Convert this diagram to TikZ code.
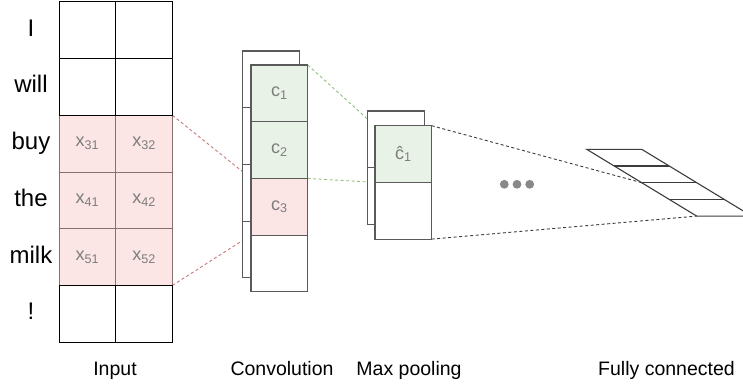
\documentclass[tikz,border=0pt]{standalone}
\usepackage{fontspec}
\setmainfont{Liberation Sans}
\usetikzlibrary{positioning,backgrounds}

\definecolor{cellpink}{RGB}{251,229,229}
\definecolor{cellgreen}{RGB}{233,242,231}
\definecolor{pinkline}{RGB}{135,112,112}
\definecolor{cellline}{RGB}{90,90,90}
\definecolor{cellgray}{RGB}{125,125,125}
\definecolor{redline}{RGB}{200,120,120}
\definecolor{greenline}{RGB}{145,192,125}
\definecolor{darkline}{RGB}{60,60,60}
\definecolor{dotgray}{RGB}{136,136,136}

\begin{document}
\begin{tikzpicture}[x=1pt, y=-1pt, node distance=0pt,
  every node/.style={inner sep=0pt, outer sep=0pt},
  cell/.style={draw, minimum width=56.7pt, minimum height=56.7pt, fill=white, text=cellgray, font=\fontsize{18}{21}\selectfont},
  incell/.style={cell, line width=0.9pt},
  pinkin/.style={incell, fill=cellpink, draw=pinkline},
  boxcell/.style={cell, draw=cellline, line width=1.2pt},
  word/.style={font=\fontsize{24}{28}\selectfont, text height=17pt, text depth=5pt},
  caption/.style={anchor=base, font=\fontsize{19.5}{23}\selectfont},
  link/.style={dash pattern=on 3pt off 2.5pt, line width=0.9pt}]

\useasboundingbox (0,0) rectangle (743,385);

% input
\node[pinkin] (a3) at (87.35,143.65) {x\textsubscript{31}};
\node[pinkin, right=of a3] (b3) {x\textsubscript{32}};
\node[pinkin, below=of a3] (a4) {x\textsubscript{41}};
\node[pinkin, right=of a4] (b4) {x\textsubscript{42}};
\node[pinkin, below=of a4] (a5) {x\textsubscript{51}};
\node[pinkin, right=of a5] (b5) {x\textsubscript{52}};
\node[incell, above=of a3] (a2) {};
\node[incell, right=of a2] (b2) {};
\node[incell, above=of a2] (a1) {};
\node[incell, right=of a1] (b1) {};
\node[incell, below=of a5] (a6) {};
\node[incell, right=of a6] (b6) {};

\node[word] (w1) at ([xshift=-28pt]a1.west) {I};
\node[word] (w2) at ([xshift=-28pt]a2.west) {will};
\node[word] (w3) at ([xshift=-28pt]a3.west) {buy};
\node[word] (w4) at ([xshift=-28pt]a4.west) {the};
\node[word] (w5) at ([xshift=-28pt]a5.west) {milk};
\node[word] (w6) at ([xshift=-28pt]a6.west) {!};

% convolution
\node[boxcell] (p1) at (271.05,79.35) {};
\node[boxcell, below=of p1] (p2) {};
\node[boxcell, below=of p2] (p3) {};
\node[boxcell, below=of p3] (p4) {};
\node[boxcell, fill=cellgreen] (c1) at ([shift={(8.3,14)}]p1) {c\textsubscript{1}};
\node[boxcell, fill=cellgreen, below=of c1] (c2) {c\textsubscript{2}};
\node[boxcell, fill=cellpink, below=of c2] (c3) {c\textsubscript{3}};
\node[boxcell, below=of c3] (c4) {};

% max pooling
\node[boxcell] (q1) at (396.05,139.35) {};
\node[boxcell, below=of q1] (q2) {};
\node[boxcell, fill=cellgreen] (m1) at ([shift={(7.3,14.7)}]q1) {ĉ\textsubscript{1}};
\node[boxcell, below=of m1] (m2) {};

\foreach \x in {504.3,517,529.7}
  \fill[dotgray] (\x,184.3) circle[radius=4.4pt];

% fully connected
\coordinate (f0) at (586.7,149.3);
\coordinate (f1) at (614.2,166);
\coordinate (f2) at (641.7,182.7);
\coordinate (f3) at (669.2,199.4);
\coordinate (f4) at (696.7,216.1);
\draw[darkline, line width=1.1pt] (f0) -- (f4) -- ++(55,0) -- ([xshift=55pt]f0) -- cycle;
\foreach \i in {1,2,3}
  \draw[darkline, line width=1.1pt] (f\i) -- ++(55,0);

\begin{scope}[on background layer]
\draw[link, redline] (b3.north east) -- (c3.north west);
\draw[link, redline] (b5.south east) -- (c3.south west);
\draw[link, greenline] (c1.north east) -- (m1.north west);
\draw[link, greenline] (c2.south east) -- (m1.south west);
\draw[link, darkline] (m1.north east) -- (f2);
\draw[link, darkline] (m2.south east) -- (f4);
\end{scope}

\node[caption] (l1) at (115,375) {Input};
\node[caption] (l2) at (282,375) {Convolution};
\node[caption] (l3) at (409,375) {Max pooling};
\node[caption] (l4) at (666.5,375) {Fully connected};
\end{tikzpicture}
\end{document}
